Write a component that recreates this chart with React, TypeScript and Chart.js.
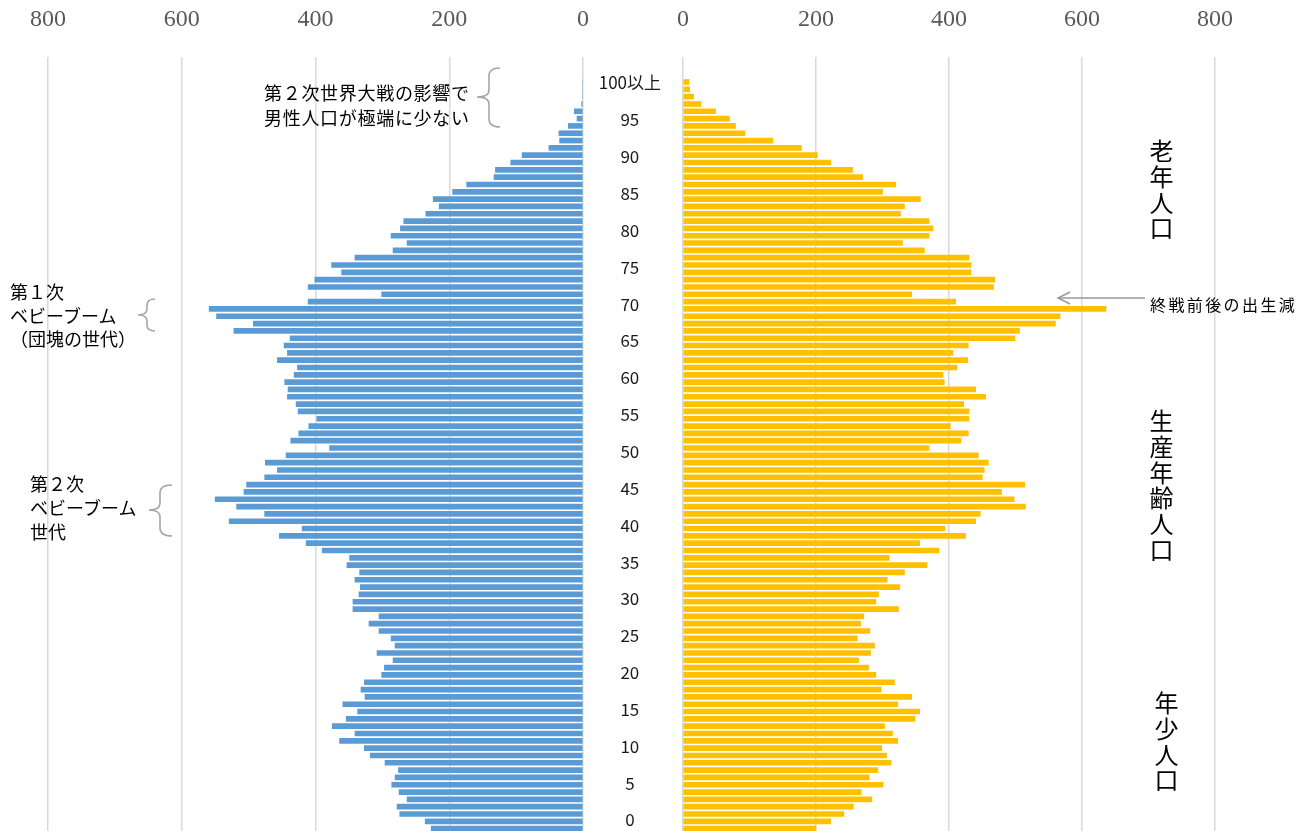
import React, { useEffect, useRef } from 'react';
import { Chart, registerables } from 'chart.js';

Chart.register(...registerables);

// Rows from the top of the pyramid (oldest) to the bottom (youngest)
const rowAges: string[] = Array.from({ length: 103 }, (_, i) => String(102 - i));

const maleValues: number[] = [
  0, 0, 0, 2, 13, 9, 22, 36, 35, 51, 91, 108, 131, 133, 174, 195, 224, 215, 235, 268, 273, 287, 263, 284, 341, 376,
  361, 401, 411, 301, 411, 559, 548, 493, 522, 438, 447, 442, 457, 427, 432, 446, 441, 442, 429, 426, 398, 410, 425, 437, 379,
  444, 475, 457, 476, 503, 507, 550, 518, 476, 529, 420, 454, 414, 390, 349, 353, 334, 341, 333, 335, 344, 344, 305, 320, 305, 287,
  281, 308, 284, 297, 301, 327, 332, 326, 359, 337, 354, 375, 341, 364, 327, 318, 296, 276, 281, 286, 275, 263, 278, 274, 236, 227,
];

const femaleValues: number[] = [
  9, 10, 16, 27, 49, 70, 79, 93, 135, 178, 202, 222, 255, 270, 320, 300, 357, 333, 327, 370, 376, 370, 330, 363, 430, 433,
  433, 469, 467, 344, 410, 636, 567, 560, 506, 499, 429, 406, 428, 412, 391, 393, 440, 455, 422, 430, 430, 402, 429, 418, 370,
  444, 459, 453, 450, 514, 479, 498, 515, 447, 440, 394, 425, 356, 385, 310, 367, 333, 307, 326, 294, 290, 324, 272, 267, 281, 262,
  288, 282, 264, 279, 290, 318, 298, 344, 323, 356, 349, 303, 315, 323, 299, 306, 313, 293, 280, 301, 268, 284, 256, 242, 222, 200,
];

const xTickValues: number[] = [0, 200, 400, 600, 800];
const ageTickValues: number[] = [0, 5, 10, 15, 20, 25, 30, 35, 40, 45, 50, 55, 60, 65, 70, 75, 80, 85, 90, 95, 100];
const ageTickLabels: string[] = ['0', '5', '10', '15', '20', '25', '30', '35', '40', '45', '50', '55', '60', '65', '70', '75', '80', '85', '90', '95', '100以上'];

const MALE_COLOR = '#5B9BD5';
const FEMALE_COLOR = '#FFC000';
const GRID_COLOR = '#D9D9D9';
const CJK = '"Noto Sans CJK JP", "Noto Sans", sans-serif';

function makeSide(
  canvas: HTMLCanvasElement,
  values: number[],
  color: string,
  reverse: boolean,
  padding: { top: number; left: number; right: number; bottom: number },
  label: string
) {
  return new Chart(canvas, {
    type: 'bar',
    data: {
      labels: rowAges,
      datasets: [
        {
          label,
          data: values.map((v, i) => ({ x: v, y: i })),
          backgroundColor: color,
          borderWidth: 0,
          barThickness: 5,
        },
      ],
    },
    options: {
      animation: false,
      responsive: false,
      events: [],
      indexAxis: 'y',
      layout: { padding },
      plugins: { legend: { display: false }, tooltip: { enabled: false } },
      scales: {
        x: {
          type: 'linear',
          position: 'top',
          min: 0,
          max: 800,
          reverse,
          offset: false,
          afterBuildTicks: (scale: any) => {
            scale.ticks = xTickValues.map((v) => ({ value: v }));
          },
          ticks: {
            font: { family: '"Liberation Serif", serif', size: 24 },
            color: '#595959',
            padding: 1,
          },
          grid: {
            color: GRID_COLOR,
            lineWidth: 1.5,
            drawTicks: true,
            tickLength: 22,
            tickColor: 'rgba(0,0,0,0)',
            offset: false,
          },
          border: { display: false },
        },
        y: {
          type: 'linear',
          reverse: true,
          offset: false,
          min: -3.415,
          max: 102.32,
          display: false,
          grid: { offset: false },
        },
      },
    } as any,
  });
}

function makeMiddle(canvas: HTMLCanvasElement) {
  return new Chart(canvas, {
    type: 'bar',
    data: { datasets: [] },
    options: {
      animation: false,
      responsive: false,
      events: [],
      layout: { padding: { top: 57, bottom: 0, left: 0, right: 0 } },
      plugins: { legend: { display: false }, tooltip: { enabled: false } },
      scales: {
        x: { display: false },
        y: {
          type: 'linear',
          position: 'left',
          offset: false,
          min: -0.1085,
          max: 103.53,
          afterBuildTicks: (scale: any) => {
            scale.ticks = ageTickValues.map((v) => ({ value: v }));
          },
          afterFit: (scale: any) => {
            scale.width = 80;
          },
          ticks: {
            autoSkip: false,
            crossAlign: 'center',
            padding: 0,
            color: '#1a1a1a',
            font: { family: CJK, size: 17 },
            callback: (value: any) => {
              const idx = ageTickValues.indexOf(Number(value));
              return idx >= 0 ? ageTickLabels[idx] : '';
            },
          },
          grid: { display: false, drawTicks: false },
          border: { display: false },
        },
      },
    } as any,
  });
}

const textBase: React.CSSProperties = {
  position: 'absolute',
  fontFamily: CJK,
  fontSize: 18,
  color: '#000',
  whiteSpace: 'pre',
  margin: 0,
};

const verticalBase: React.CSSProperties = {
  position: 'absolute',
  fontFamily: CJK,
  fontSize: 24,
  lineHeight: '24px',
  width: 24,
  letterSpacing: '1.75px',
  writingMode: 'vertical-rl',
  color: '#000',
};

export default function App() {
  const leftRef = useRef<HTMLCanvasElement>(null);
  const midRef = useRef<HTMLCanvasElement>(null);
  const rightRef = useRef<HTMLCanvasElement>(null);

  useEffect(() => {
    const charts: Chart[] = [];
    if (leftRef.current) {
      charts.push(makeSide(leftRef.current, maleValues, MALE_COLOR, true, { top: 4.2, left: 48, right: 17, bottom: 0 }, '男'));
    }
    if (rightRef.current) {
      charts.push(makeSide(rightRef.current, femaleValues, FEMALE_COLOR, false, { top: 4.2, left: 43, right: 98, bottom: 0 }, '女'));
    }
    if (midRef.current) {
      charts.push(makeMiddle(midRef.current));
    }
    return () => charts.forEach((c) => c.destroy());
  }, []);

  const braceStroke = '#A6A6A6';

  return (
    <div
      style={{
        position: 'absolute',
        left: 0,
        top: 0,
        width: 1313,
        height: 831,
        overflow: 'hidden',
        background: '#fff',
      }}
    >
      <canvas ref={leftRef} width={600} height={831} style={{ position: 'absolute', left: 0, top: 0, width: 600, height: 831 }} />
      <canvas ref={rightRef} width={673} height={831} style={{ position: 'absolute', left: 640, top: 0, width: 673, height: 831 }} />
      <canvas ref={midRef} width={90} height={831} style={{ position: 'absolute', left: 581, top: 0, width: 90, height: 831 }} />

      <svg width={1313} height={831} style={{ position: 'absolute', left: 0, top: 0, pointerEvents: 'none' }}>
        <path
          d="M 500 68 Q 489 68 489 76 L 489 90 Q 489 97 477 97 Q 489 97 489 104 L 489 119 Q 489 127 500 127"
          fill="none"
          stroke={braceStroke}
          strokeWidth={1.6}
        />
        <path
          d="M 155 299 Q 147 299 147 305 L 147 309 Q 147 315 138 315 Q 147 315 147 321 L 147 325 Q 147 331 155 331"
          fill="none"
          stroke={braceStroke}
          strokeWidth={1.6}
        />
        <path
          d="M 172 485 Q 160 485 160 493 L 160 503 Q 160 510 149 510 Q 160 510 160 517 L 160 528 Q 160 536 172 536"
          fill="none"
          stroke={braceStroke}
          strokeWidth={1.6}
        />
        <line x1={1145} y1={298} x2={1058} y2={298} stroke="#999" strokeWidth={1.5} />
        <polyline points="1070,292 1058,298 1070,304" fill="none" stroke="#999" strokeWidth={1.5} />
      </svg>

      <div style={{ ...textBase, left: 264, top: 80, lineHeight: '24.5px', letterSpacing: '0.7px' }}>
        {'第２次世界大戦の影響で\n男性人口が極端に少ない'}
      </div>
      <div style={{ ...textBase, left: 10, top: 280, lineHeight: '23.7px' }}>
        {'第１次\nベビーブーム\n（団塊の世代）'}
      </div>
      <div style={{ ...textBase, left: 30, top: 470.5, lineHeight: '24px' }}>
        {'第２次\nベビーブーム\n世代'}
      </div>
      <div style={{ ...textBase, left: 1150, top: 293.5, fontSize: 16, lineHeight: '20px', letterSpacing: '2.4px' }}>
        終戦前後の出生減
      </div>

      <div style={{ ...verticalBase, left: 1149, top: 139 }}>老年人口</div>
      <div style={{ ...verticalBase, left: 1149, top: 409 }}>生産年齢人口</div>
      <div style={{ ...verticalBase, left: 1154, top: 691 }}>年少人口</div>
    </div>
  );
}
